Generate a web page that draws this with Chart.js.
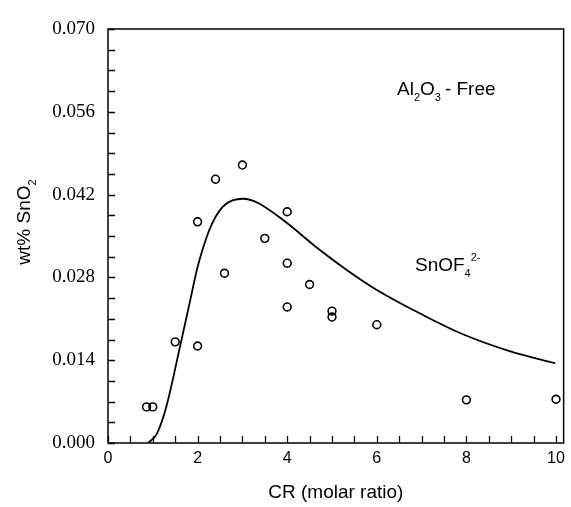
<!DOCTYPE html>
<html>
<head>
<meta charset="utf-8">
<script src="https://cdn.jsdelivr.net/npm/chart.js@4/dist/chart.umd.min.js"></script>
<style>
  html, body { margin: 0; padding: 0; background: #fff; }
  #wrap { width: 571px; height: 507px; }
</style>
</head>
<body>
<div id="wrap"><canvas id="chart" width="571" height="507"></canvas></div>
<script>
// gemeten punten (open cirkels)
const pointX = [0.86, 1.0, 1.5, 2.0, 2.0, 2.4, 2.6, 3.0, 3.5, 4.0, 4.0, 4.0, 4.5, 5.0, 5.0, 6.0, 8.0, 10.0];
const pointY = [0.0061, 0.0061, 0.0171, 0.0164, 0.0374, 0.0446, 0.0287, 0.0470, 0.0346, 0.0391, 0.0304, 0.0230, 0.0268, 0.0223, 0.0213, 0.0200, 0.0073, 0.0074];

// berekende curve SnOF4 2-
const curveX = [0.9, 1.08, 1.3, 1.59, 1.82, 2.04, 2.33, 2.63, 3.0, 3.37, 3.96, 4.7, 5.36, 6.02, 6.99, 7.95, 8.98, 9.98];
const curveY = [0.0, 0.0014, 0.0061, 0.0157, 0.0236, 0.0309, 0.0372, 0.0404, 0.0413, 0.0405, 0.0374, 0.0328, 0.0291, 0.0258, 0.0218, 0.0183, 0.0155, 0.0135];

// as-labels
const xTicks = [0, 2, 4, 6, 8, 10];
const yTicks = [0.000, 0.014, 0.028, 0.042, 0.056, 0.070];

const SANS = 'Arial, "Liberation Sans", Helvetica, sans-serif';
const SERIF = '"Times New Roman", "Liberation Serif", serif';

// tekst met sub/superscript
function drawRich(ctx, parts, x, y, size, align) {
    ctx.save();
    ctx.textBaseline = 'alphabetic';
    ctx.textAlign = 'left';
    const small = Math.round(size * 0.6);
    let total = 0;
    parts.forEach(p => {
        ctx.font = (p.sub || p.sup ? small : size) + 'px ' + SANS;
        p.w = ctx.measureText(p.t).width + (p.gap || 0);
        total += p.w;
    });
    let cx = align === 'center' ? x - total / 2 : x;
    parts.forEach(p => {
        ctx.font = (p.sub || p.sup ? small : size) + 'px ' + SANS;
        let dy = 0;
        if (p.sub) dy = size * 0.3;
        if (p.sup) dy = -size * 0.55;
        ctx.fillText(p.t, cx, y + dy);
        cx += p.w;
    });
    ctx.restore();
}

const framePlugin = {
    id: 'frame',
    afterDraw(chart) {
        const { ctx, chartArea: a, scales } = chart;
        ctx.save();
        ctx.strokeStyle = '#000';
        ctx.lineWidth = 1.5;
        ctx.strokeRect(a.left, a.top, a.right - a.left, a.bottom - a.top);

        // ticks naar binnen
        ctx.lineWidth = 1.3;
        ctx.beginPath();
        for (let i = 0; i <= 20; i++) {
            const px = Math.round(scales.x.getPixelForValue(i * 0.5)) + 0.5;
            ctx.moveTo(px, a.bottom);
            ctx.lineTo(px, a.bottom - 7);
        }
        for (let i = 0; i <= 20; i++) {
            const py = Math.round(scales.y.getPixelForValue(i * 0.0035)) + 0.5;
            ctx.moveTo(a.left, py);
            ctx.lineTo(a.left + 7, py);
        }
        ctx.stroke();

        ctx.fillStyle = '#000';
        // as-titels
        ctx.font = '19px ' + SANS;
        ctx.textAlign = 'center';
        ctx.textBaseline = 'middle';
        ctx.fillText('CR (molar ratio)', (a.left + a.right) / 2, 493);

        ctx.save();
        ctx.translate(30, 222);
        ctx.rotate(-Math.PI / 2);
        drawRich(ctx, [{ t: 'wt% SnO' }, { t: '2', sub: true }], 0, 0, 19, 'center');
        ctx.restore();

        // annotaties
        drawRich(ctx, [{ t: 'Al' }, { t: '2', sub: true }, { t: 'O' }, { t: '3', sub: true, gap: 4 }, { t: '- Free' }], 397, 95, 19);
        drawRich(ctx, [{ t: 'SnOF' }, { t: '4', sub: true }, { t: '2-', sup: true }], 415, 271, 19);
        ctx.restore();
    }
};

new Chart(document.getElementById('chart'), {
    type: 'scatter',
    data: {
        datasets: [
            {
                label: 'SnOF4 2-',
                data: curveX.map((x, i) => ({ x: x, y: curveY[i] })),
                showLine: true,
                borderColor: '#000',
                borderWidth: 1.8,
                pointRadius: 0,
                tension: 0.35,
                fill: false
            },
            {
                label: 'metingen',
                data: pointX.map((x, i) => ({ x: x, y: pointY[i] })),
                showLine: false,
                pointStyle: 'circle',
                pointRadius: 3.9,
                borderColor: '#000',
                borderWidth: 1.6,
                backgroundColor: 'rgba(0,0,0,0)'
            }
        ]
    },
    options: {
        responsive: false,
        animation: false,
        layout: { padding: { top: 29, right: 3, left: 0, bottom: 0 } },
        plugins: {
            legend: { display: false },
            tooltip: { enabled: false }
        },
        scales: {
            x: {
                type: 'linear',
                min: 0,
                max: 10.17,
                grid: { display: false, drawTicks: false },
                border: { display: false },
                afterBuildTicks: scale => { scale.ticks = xTicks.map(v => ({ value: v })); },
                afterFit: scale => { scale.height = 64; },
                ticks: {
                    padding: 6,
                    color: '#000',
                    font: { family: SANS, size: 16 },
                    callback: v => String(v)
                }
            },
            y: {
                type: 'linear',
                min: 0,
                max: 0.07,
                grid: { display: false, drawTicks: false },
                border: { display: false },
                afterBuildTicks: scale => { scale.ticks = yTicks.map(v => ({ value: v })); },
                afterFit: scale => { scale.width = 108; },
                ticks: {
                    padding: 13,
                    color: '#000',
                    font: { family: SERIF, size: 19 },
                    callback: v => Number(v).toFixed(3)
                }
            }
        }
    },
    plugins: [framePlugin]
});
</script>
</body>
</html>
